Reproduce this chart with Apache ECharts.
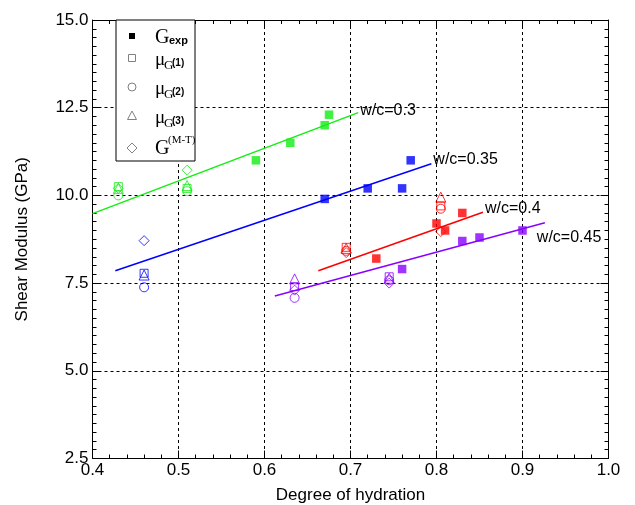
<!DOCTYPE html>
<html>
<head>
<meta charset="utf-8">
<script src="https://cdn.jsdelivr.net/npm/echarts@6/dist/echarts.min.js"></script>
<style>
  html, body { margin: 0; padding: 0; background: #fff; }
  #chart { width: 635px; height: 505px; }
</style>
</head>
<body>
<div id="chart"></div>
<script>
// tick labels
var xTicks = [0.4, 0.5, 0.6, 0.7, 0.8, 0.9, 1.0];
var yTicks = [2.5, 5.0, 7.5, 10.0, 12.5, 15.0];

// w/c = 0.3 (green)
var exp03 = [[0.59, 11.0], [0.63, 11.5], [0.67, 12.0], [0.675, 12.3]];
var mu1_03 = [[0.43, 10.25], [0.51, 10.2]];
var mu2_03 = [[0.43, 10.0], [0.51, 10.12]];
var mu3_03 = [[0.43, 10.2], [0.51, 10.28]];
var mt03 = [[0.43, 10.2], [0.51, 10.72]];
var fit03 = [[0.4, 9.48], [0.709, 12.36]];

// w/c = 0.35 (blue)
var exp035 = [[0.67, 9.9], [0.72, 10.2], [0.76, 10.2], [0.77, 11.0]];
var mu1_035 = [[0.46, 7.78]];
var mu2_035 = [[0.46, 7.38]];
var mu3_035 = [[0.46, 7.73]];
var mt035 = [[0.46, 8.71]];
var fit035 = [[0.4265, 7.85], [0.794, 10.9]];

// w/c = 0.4 (red)
var exp04 = [[0.73, 8.2], [0.80, 9.2], [0.81, 9.0], [0.83, 9.5]];
var mu1_04 = [[0.695, 8.52], [0.805, 9.7]];
var mu2_04 = [[0.695, 8.42], [0.805, 9.62]];
var mu3_04 = [[0.695, 8.49], [0.805, 9.95]];
var mt04 = [[0.695, 8.37], [0.805, 8.97]];
var fit04 = [[0.6626, 7.85], [0.854, 9.52]];

// w/c = 0.45 (purple)
var exp045 = [[0.76, 7.9], [0.83, 8.7], [0.85, 8.8], [0.90, 9.0]];
var mu1_045 = [[0.635, 7.4], [0.745, 7.68]];
var mu2_045 = [[0.635, 7.08], [0.745, 7.58]];
var mu3_045 = [[0.635, 7.62], [0.745, 7.64]];
var mt045 = [[0.635, 7.3], [0.745, 7.5]];
var fit045 = [[0.612, 7.13], [0.926, 9.22]];

var groups = [
  { name: 'w/c=0.3', color: '#11ee11', exp: exp03, mu1: mu1_03, mu2: mu2_03, mu3: mu3_03, mt: mt03, fit: fit03, off: [0, -2] },
  { name: 'w/c=0.35', color: '#0000ff', exp: exp035, mu1: mu1_035, mu2: mu2_035, mu3: mu3_035, mt: mt035, fit: fit035, off: [0, -4] },
  { name: 'w/c=0.4', color: '#ff0000', exp: exp04, mu1: mu1_04, mu2: mu2_04, mu3: mu3_04, mt: mt04, fit: fit04, off: [0, -4] },
  { name: 'w/c=0.45', color: '#8a00ff', exp: exp045, mu1: mu1_045, mu2: mu2_045, mu3: mu3_045, mt: mt045, fit: fit045, off: [-10, 15] }
];

var sansFont = '"Liberation Sans", Arial, Helvetica, sans-serif';
var serifFont = '"Liberation Serif", "Times New Roman", serif';

function openScatter(data, color, symbol, size) {
  return {
    type: 'scatter', data: data, symbol: symbol, symbolSize: size,
    itemStyle: { color: 'rgba(0,0,0,0)', borderColor: color, borderWidth: 1 },
    silent: true, z: 3
  };
}

var series = [];
groups.forEach(function (g) {
  series.push({
    type: 'line', data: g.fit, symbol: 'none', silent: true,
    lineStyle: { color: g.color, width: 1.5 },
    endLabel: {
      show: true, formatter: g.name, distance: 2, offset: g.off,
      color: '#000', fontSize: 16, fontFamily: sansFont
    },
    z: 2
  });
  series.push(openScatter(g.mu1, g.color, 'rect', 8));
  series.push(openScatter(g.mu2, g.color, 'circle', 9));
  series.push(openScatter(g.mu3, g.color, 'triangle', 10));
  series.push(openScatter(g.mt, g.color, 'diamond', 10));
  series.push({
    type: 'scatter', data: g.exp, symbol: 'rect', symbolSize: 8.5,
    itemStyle: { color: g.color }, silent: true, z: 4
  });
});

// legend drawn as graphic
var legendGray = '#808080';
var legendGraphic = [
  { type: 'rect', shape: { x: 116, y: 20, width: 79, height: 141 }, style: { fill: '#fff', stroke: '#000', lineWidth: 1 }, z: 10 },
  { type: 'rect', shape: { x: 129, y: 33, width: 6, height: 6 }, style: { fill: '#000' }, z: 11 },
  { type: 'rect', shape: { x: 128.5, y: 54.5, width: 7, height: 7 }, style: { fill: 'none', stroke: legendGray }, z: 11 },
  { type: 'circle', shape: { cx: 132, cy: 87, r: 4 }, style: { fill: 'none', stroke: legendGray }, z: 11 },
  { type: 'polygon', shape: { points: [[132, 111], [136.5, 119.5], [127.5, 119.5]] }, style: { fill: 'none', stroke: legendGray }, z: 11 },
  { type: 'polygon', shape: { points: [[132, 143], [137, 148], [132, 153], [127, 148]] }, style: { fill: 'none', stroke: legendGray }, z: 11 },

  { type: 'text', x: 155, y: 38, style: { text: 'G', font: '20px ' + serifFont, fill: '#000', verticalAlign: 'middle' }, z: 11 },
  { type: 'text', x: 169, y: 41, style: { text: 'exp', font: 'bold 11px ' + sansFont, fill: '#000', verticalAlign: 'middle' }, z: 11 },

  { type: 'text', x: 155, y: 60, style: { text: 'μ', font: '19px ' + serifFont, fill: '#000', verticalAlign: 'middle' }, z: 11 },
  { type: 'text', x: 164, y: 66, style: { text: 'G', font: '13px ' + serifFont, fill: '#000', verticalAlign: 'middle' }, z: 11 },
  { type: 'text', x: 172, y: 63, style: { text: '(1)', font: 'bold 10px ' + sansFont, fill: '#000', verticalAlign: 'middle' }, z: 11 },

  { type: 'text', x: 155, y: 89, style: { text: 'μ', font: '19px ' + serifFont, fill: '#000', verticalAlign: 'middle' }, z: 11 },
  { type: 'text', x: 164, y: 95, style: { text: 'G', font: '13px ' + serifFont, fill: '#000', verticalAlign: 'middle' }, z: 11 },
  { type: 'text', x: 172, y: 92, style: { text: '(2)', font: 'bold 10px ' + sansFont, fill: '#000', verticalAlign: 'middle' }, z: 11 },

  { type: 'text', x: 155, y: 118, style: { text: 'μ', font: '19px ' + serifFont, fill: '#000', verticalAlign: 'middle' }, z: 11 },
  { type: 'text', x: 164, y: 124, style: { text: 'G', font: '13px ' + serifFont, fill: '#000', verticalAlign: 'middle' }, z: 11 },
  { type: 'text', x: 172, y: 121, style: { text: '(3)', font: 'bold 10px ' + sansFont, fill: '#000', verticalAlign: 'middle' }, z: 11 },

  { type: 'text', x: 155, y: 149, style: { text: 'G', font: '20px ' + serifFont, fill: '#000', verticalAlign: 'middle' }, z: 11 },
  { type: 'text', x: 168, y: 140, style: { text: '(M-T)', font: '11px ' + serifFont, fill: '#000', verticalAlign: 'middle' }, z: 11 }
];

var axisCommon = {
  type: 'value',
  axisLine: { show: true, onZero: false, lineStyle: { color: '#000', width: 1 } },
  axisTick: { show: true, inside: true, length: 8, lineStyle: { color: '#000' } }
};

var myChart = echarts.init(document.getElementById('chart'), null, { renderer: 'canvas' });
myChart.setOption({
  animation: false,
  backgroundColor: '#fff',
  grid: { left: 92.5, right: 26.5, top: 20, bottom: 46.5, containLabel: false, outerBoundsMode: 'none' },
  xAxis: [
    Object.assign({}, axisCommon, {
      min: xTicks[0], max: xTicks[xTicks.length - 1], interval: 0.1, position: 'bottom',
      name: 'Degree of hydration', nameLocation: 'middle', nameGap: 28,
      nameTextStyle: { color: '#000', fontSize: 17, fontFamily: sansFont },
      minorTick: { show: true, splitNumber: 5, length: 4, lineStyle: { color: '#000' } },
      axisLabel: { color: '#000', fontSize: 17, fontFamily: sansFont, margin: 3, formatter: function (v) { return v.toFixed(1); } },
      splitLine: { show: true, lineStyle: { color: '#000', type: [3, 3], width: 1 } }
    }),
    Object.assign({}, axisCommon, {
      min: xTicks[0], max: xTicks[xTicks.length - 1], interval: 0.1, position: 'top',
      minorTick: { show: true, splitNumber: 5, length: 4, lineStyle: { color: '#000' } },
      axisLabel: { show: false }, splitLine: { show: false }
    })
  ],
  yAxis: [
    Object.assign({}, axisCommon, {
      min: yTicks[0], max: yTicks[yTicks.length - 1], interval: 2.5, position: 'left',
      name: 'Shear Modulus (GPa)', nameLocation: 'middle', nameGap: 62,
      nameTextStyle: { color: '#000', fontSize: 17, fontFamily: sansFont },
      minorTick: { show: true, splitNumber: 10, length: 4, lineStyle: { color: '#000' } },
      axisLabel: { color: '#000', fontSize: 17, fontFamily: sansFont, margin: 4, formatter: function (v) { return v.toFixed(1); } },
      splitLine: { show: true, lineStyle: { color: '#000', type: [3, 3], width: 1 } }
    }),
    Object.assign({}, axisCommon, {
      min: yTicks[0], max: yTicks[yTicks.length - 1], interval: 2.5, position: 'right',
      minorTick: { show: true, splitNumber: 10, length: 4, lineStyle: { color: '#000' } },
      axisLabel: { show: false }, splitLine: { show: false }
    })
  ],
  series: series,
  graphic: legendGraphic
});
</script>
</body>
</html>
